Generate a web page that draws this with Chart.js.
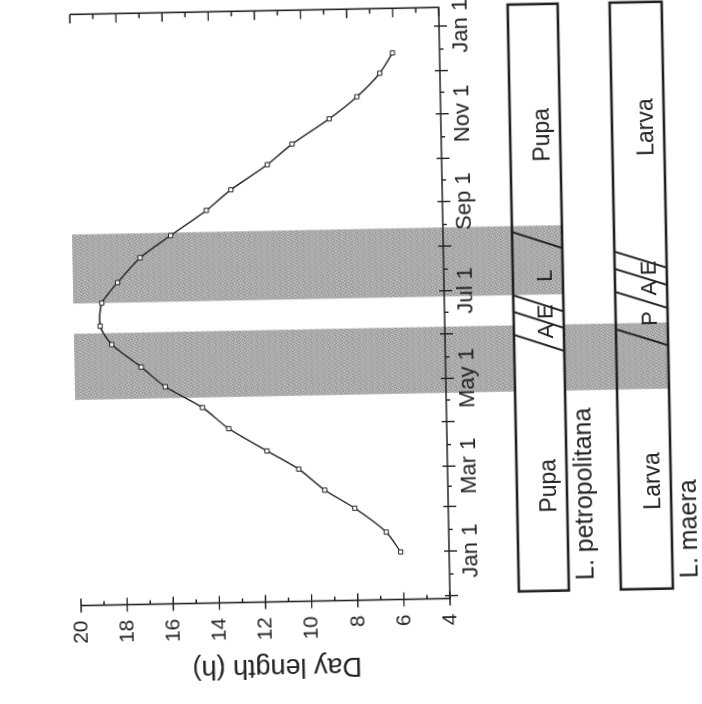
<!DOCTYPE html>
<html><head><meta charset="utf-8">
<script src="https://cdn.jsdelivr.net/npm/chart.js@4.4.0/dist/chart.umd.min.js"></script>
<style>
html,body{margin:0;padding:0;background:#fff;width:702px;height:704px;overflow:hidden}
#tilt{position:absolute;left:0;top:0;width:702px;height:704px;transform-origin:450px 598px;transform:rotate(-1.1deg)}
#rot{position:absolute;left:-1px;top:1px;width:704px;height:702px;transform-origin:352px 351px;transform:rotate(-90deg)}
canvas{display:block}
</style></head><body>
<div id="tilt"><div id="rot"><canvas id="c" width="704" height="702"></canvas></div></div>
<script>
// ---- data (day of year, Jan 1 = 0) ----
const dayOfYear = [0,14,31,44,59,72,88,103,118,132,148,161,177,191,208,223,240,254,271,285,302,317,333,347];
const dayLength = [6.10,6.71,8.05,9.34,10.45,11.81,13.45,14.57,16.17,17.19,18.45,18.94,18.85,18.15,17.15,15.81,14.24,13.16,11.56,10.47,8.84,7.62,6.61,6.04];
const tickDays = [0,59,120,181,243,304,365];
const tickLabels = ['Jan 1','Mar 1','May 1','Jul 1','Sep 1','Nov 1','Jan 1'];
const monthStarts = [-31,0,31,59,90,120,151,181,212,243,273,304,334,365];
const midMonths = [-16,15,45,74,105,135,166,196,227,258,288,319,349];
const hourTicks = [4,6,8,10,12,14,16,18,20];
const hourMinor = [5,7,9,11,13,15,17,19];
const bandStart = [110,177];
const bandEnd = [156,225];
const species = ['L. petropolitana','L. maera'];
const stageNames1 = ['Pupa','A','E','L','Pupa'];
const stageBounds1 = [143.5,159.5,171,215];
const stageLabelDay1 = [44,151.5,165,190,288];
const stageNames2 = ['Larva','P','A','E','Larva'];
const stageBounds2 = [146,172,188,200];
const stageLabelDay2 = [46,159,180,194,292];
const barSpan = [-29,379];
const axisTitle = 'Day length (h)';

// ---- layout / style ----
const INK = '#222';
const FONT = '"Liberation Sans", Arial, sans-serif';
const BAR1 = [519,569], BAR2 = [621,673];
const BAND_TOP = 79;

function bandPattern(ctx){
  const c = document.createElement('canvas'); c.width = 6; c.height = 6;
  const g = c.getContext('2d');
  g.fillStyle = '#ababab'; g.fillRect(0,0,6,6);
  const dark = [[0,0],[3,1],[1,3],[4,4],[2,5],[5,2]];
  const light = [[2,0],[5,0],[0,2],[3,3],[1,5],[4,1]];
  g.fillStyle = '#8c8c8c'; dark.forEach(([a,b])=>g.fillRect(a,b,1,1));
  g.fillStyle = '#c6c6c6'; light.forEach(([a,b])=>g.fillRect(a,b,1,1));
  return ctx.createPattern(c,'repeat');
}

const decor = {
  id:'decor',
  beforeDraw(chart){
    const {ctx, scales:{x}} = chart;
    ctx.save();
    ctx.fillStyle = bandPattern(ctx);
    let a = x.getPixelForValue(bandStart[0]), b = x.getPixelForValue(bandEnd[0]);
    ctx.fillRect(a, BAND_TOP, b-a, BAR1[0]-BAND_TOP);
    ctx.fillRect(a, BAR1[1], b-a, BAR2[1]-BAR1[1]);
    a = x.getPixelForValue(bandStart[1]); b = x.getPixelForValue(bandEnd[1]);
    ctx.fillRect(a, BAND_TOP, b-a, BAR1[1]-BAND_TOP);
    ctx.restore();
  },
  afterDraw(chart){
    const {ctx, chartArea:ca, scales:{x,y}} = chart;
    ctx.save();
    ctx.strokeStyle = INK; ctx.fillStyle = INK;
    ctx.lineWidth = 1.6;
    // axes lines
    ctx.beginPath();
    ctx.moveTo(ca.left, ca.top); ctx.lineTo(ca.left, ca.bottom); ctx.lineTo(ca.right, ca.bottom); ctx.lineTo(ca.right, ca.top);
    ctx.stroke();
    // date ticks
    ctx.lineWidth = 1.4;
    ctx.beginPath();
    monthStarts.forEach(d=>{const p=x.getPixelForValue(d); ctx.moveTo(p, ca.bottom-5); ctx.lineTo(p, ca.bottom+8);});
    midMonths.forEach(d=>{const p=x.getPixelForValue(d); ctx.moveTo(p, ca.bottom); ctx.lineTo(p, ca.bottom+4);});
    // hour ticks
    hourTicks.forEach(h=>{const p=y.getPixelForValue(h); ctx.moveTo(ca.left-7, p); ctx.lineTo(ca.left+7, p); ctx.moveTo(ca.right, p); ctx.lineTo(ca.right-9, p);});
    hourMinor.forEach(h=>{const p=y.getPixelForValue(h); ctx.moveTo(ca.left, p); ctx.lineTo(ca.left+4, p); ctx.moveTo(ca.right, p); ctx.lineTo(ca.right-5, p);});
    ctx.stroke();
    // date tick labels
    ctx.font = '22px ' + FONT;
    ctx.textAlign = 'center'; ctx.textBaseline = 'alphabetic';
    tickDays.forEach((d,i)=>ctx.fillText(tickLabels[i], x.getPixelForValue(d), ca.bottom+28));
    // axis title
    ctx.save();
    ctx.font = '27px ' + FONT;
    ctx.textAlign = 'center'; ctx.textBaseline = 'middle';
    ctx.translate(41, 276);
    ctx.rotate(-Math.PI/2);
    ctx.fillText(axisTitle, 0, 0);
    ctx.restore();
    // phenology bars
    const bars = [
      {v:BAR1, bounds:stageBounds1, names:stageNames1, at:stageLabelDay1, sp:species[0]},
      {v:BAR2, bounds:stageBounds2, names:stageNames2, at:stageLabelDay2, sp:species[1]}
    ];
    const s0 = x.getPixelForValue(barSpan[0]), s1 = x.getPixelForValue(barSpan[1]);
    bars.forEach(bar=>{
      const [t,bm] = bar.v;
      ctx.lineWidth = 2.6;
      ctx.strokeRect(s0, t, s1-s0, bm-t);
      ctx.lineWidth = 2;
      ctx.beginPath();
      bar.bounds.forEach(d=>{const p=x.getPixelForValue(d); ctx.moveTo(p+8.5, t); ctx.lineTo(p-8.5, bm);});
      ctx.stroke();
      ctx.textAlign = 'center'; ctx.textBaseline = 'alphabetic';
      bar.names.forEach((n,i)=>{
        ctx.font = (n.length>1 ? '23px ' : '22px ') + FONT;
        ctx.fillText(n, x.getPixelForValue(bar.at[i]), bm-11);
      });
      ctx.textAlign = 'left';
      ctx.font = '25px ' + FONT;
      ctx.fillText(bar.sp, s0+10, bm+25);
    });
    ctx.restore();
  }
};

Chart.defaults.font.family = FONT;
Chart.defaults.color = INK;

new Chart(document.getElementById('c'), {
  type:'line',
  data:{datasets:[{
    data: dayOfYear.map((d,i)=>({x:d, y:dayLength[i]})),
    borderColor:INK, borderWidth:1.4, tension:0.25,
    pointStyle:'rect', pointRadius:3, pointBorderWidth:1,
    pointBackgroundColor:'#fff', pointBorderColor:INK
  }]},
  options:{
    responsive:false, animation:false, devicePixelRatio:1,
    layout:{padding:{top:81, right:7.3, bottom:0, left:0}},
    plugins:{legend:{display:false}, tooltip:{enabled:false}},
    scales:{
      x:{type:'linear', min:-33, max:378,
        grid:{display:false, drawTicks:false}, border:{display:false},
        afterBuildTicks(s){ s.ticks = monthStarts.concat(midMonths).sort((a,b)=>a-b).map(v=>({value:v})); },
        afterFit(s){ s.height = 252; },
        ticks:{display:false}
      },
      y:{type:'linear', min:4, max:20,
        grid:{display:false, drawTicks:false}, border:{display:false},
        afterBuildTicks(s){ s.ticks = hourTicks.map(v=>({value:v})); },
        afterFit(s){ s.width = 105.5; },
        ticks:{padding:15, font:{size:21}}
      }
    }
  },
  plugins:[decor]
});
</script>
</body></html>
